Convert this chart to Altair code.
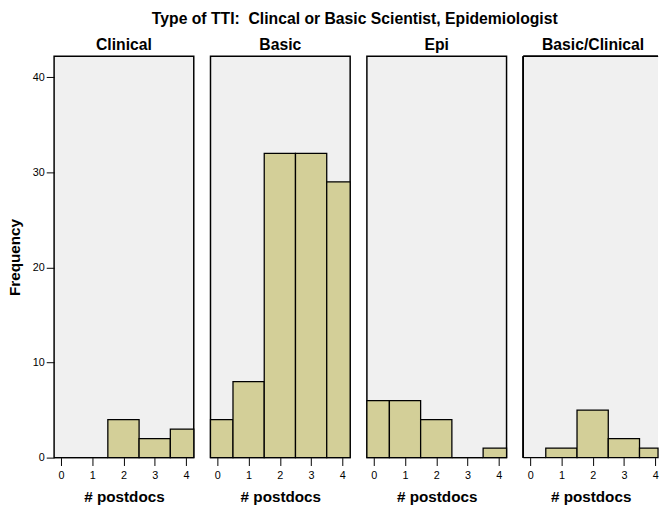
import altair as alt
import pandas as pd

# Postdoc counts per TTI type (bins 0..4)
types = ["Clinical", "Basic", "Epi", "Basic/Clinical"]
postdocs = [0, 1, 2, 3, 4]
clinical = [0, 0, 4, 2, 3]
basic = [4, 8, 32, 32, 29]
epi = [6, 6, 4, 0, 1]
basic_clinical = [0, 1, 5, 2, 1]
y_ticks = [0, 10, 20, 30, 40]

font = "Arial, Liberation Sans, sans-serif"
bar_fill = "#d3cf98"
panel_fill = "#f0f0f0"
panel_w = 142
panel_h = 408
x_lo = -0.22
x_hi = 4.25
px_per_unit = panel_w / (x_hi - x_lo)


def panel(name, counts, width, show_y, framed=True):
    df = pd.DataFrame({
        "postdocs": postdocs,
        "lo": [p - 0.5 for p in postdocs],
        "hi": [p + 0.5 for p in postdocs],
        "count": counts,
    })
    xmax = x_lo + width / px_per_unit
    y_axis = alt.Axis(
        values=y_ticks, title="Frequency", tickSize=8,
        labelFontSize=11, titleFontSize=15.5, titleFontWeight="bold",
        titlePadding=10, labelPadding=2, grid=False, domain=False,
        tickColor="black", labelColor="black", titleColor="black",
    ) if show_y else None
    # clamp keeps the outer bins inside the panel
    bars = alt.Chart(df).mark_bar(
        color=bar_fill, stroke="black", strokeWidth=1.3
    ).encode(
        x=alt.X(
            "lo:Q",
            scale=alt.Scale(domain=[x_lo, xmax], nice=False, zero=False, clamp=True),
            axis=alt.Axis(
                values=postdocs, format="d", title="# postdocs", tickSize=8,
                labelFontSize=11, titleFontSize=15.5, titleFontWeight="bold",
                titlePadding=10, labelPadding=4, grid=False, domain=False,
                tickColor="black", labelColor="black", titleColor="black",
            ),
        ),
        x2="hi:Q",
        y=alt.Y("count:Q", scale=alt.Scale(domain=[0, 42.2], nice=False), axis=y_axis),
        y2=alt.datum(0),
    )
    shift = 0 if framed else (panel_w - width) / 2
    title = alt.TitleParams(name, fontSize=16, fontWeight="bold", color="black",
                            anchor="middle", offset=3, dx=shift, font=font)
    if framed:
        return bars.properties(width=width, height=panel_h, title=title)
    # panel running off the right edge: frame only its left and top sides
    left_edge = alt.Chart(df).mark_rule(color="black", strokeWidth=1.3).encode(
        x=alt.value(0), y=alt.value(0), y2=alt.value(panel_h))
    top_edge = alt.Chart(df).mark_rule(color="black", strokeWidth=1.3).encode(
        x=alt.value(0), x2=alt.value(width), y=alt.value(0))
    return alt.layer(bars, left_edge, top_edge).properties(
        width=width, height=panel_h, title=title,
        view=alt.ViewBackground(fill=panel_fill, stroke="transparent"),
    )


chart = alt.hconcat(
    panel("Clinical", clinical, panel_w, True),
    panel("Basic", basic, panel_w, False),
    panel("Epi", epi, panel_w, False),
    panel("Basic/Clinical", basic_clinical, 137, False, framed=False),
    spacing=13,
).properties(
    title=alt.TitleParams(
        "Type of TTI:\u00a0 Clincal or Basic Scientist, Epidemiologist",
        fontSize=16, fontWeight="bold", color="black", anchor="middle",
        offset=9, dx=22,
    ),
    padding={"left": 7, "top": 7, "right": 0, "bottom": 0},
).configure(
    font=font
).configure_view(
    fill=panel_fill, stroke="black", strokeWidth=1.5
).configure_axis(
    labelFont=font, titleFont=font
).configure_title(font=font)

chart.save("out.html", embed_options={"renderer": "svg", "actions": False})
